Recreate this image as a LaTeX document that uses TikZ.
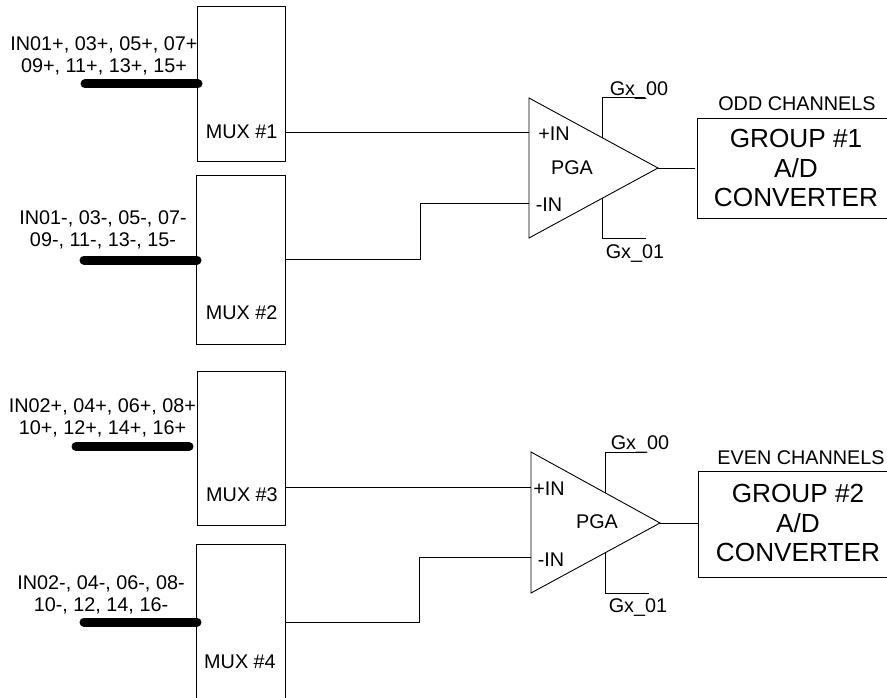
\documentclass[tikz,border=0pt]{standalone}
\usepackage{fontspec}
\setmainfont{Liberation Sans}
\tikzset{
  x=1pt,y=-1pt,
  wire/.style={draw=black,line width=0.9pt,line join=miter},
  muxbox/.style={draw=black,line width=0.9pt,inner sep=0pt,rectangle},
  adcbox/.style={draw=black,line width=0.9pt,inner sep=0pt,rectangle},
  bus/.style={draw=black,line width=9pt,line cap=round},
  lbl/.style={inner sep=0pt,font=\fontsize{19.8}{22}\selectfont,align=center},
  biglbl/.style={inner sep=0pt,font=\fontsize{26.2}{29.5}\selectfont,align=center},
}
\begin{document}
\begin{tikzpicture}
\useasboundingbox (0,0) rectangle (887,698);
\fill[white] (0,0) rectangle (887,698);
% multiplexers
\node[muxbox,minimum width=88pt,minimum height=155pt] (mux1) at (241,83.5) {};
\node[muxbox,minimum width=89pt,minimum height=169pt] (mux2) at (240.5,259.5) {};
\node[muxbox,minimum width=88pt,minimum height=154.5pt] (mux3) at (241,448.25) {};
\node[muxbox,minimum width=89pt,minimum height=170pt] (mux4) at (240.5,629) {};
\node[lbl] (m1) at (241.7,132) {MUX \#1};
\node[lbl] (m2) at (241.7,313) {MUX \#2};
\node[lbl] (m3) at (242,495) {MUX \#3};
\node[lbl] (m4) at (240,662) {MUX \#4};
% input labels
\node[lbl] (i1) at (104,55.5) {IN01+, 03+, 05+, 07+\\09+, 11+, 13+, 15+};
\node[lbl] (i2) at (103,229.5) {IN01-, 03-, 05-, 07-\\09-, 11-, 13-, 15-};
\node[lbl] (i3) at (102.5,418) {IN02+, 04+, 06+, 08+\\10+, 12+, 14+, 16+};
\node[lbl] (i4) at (101,594.5) {IN02-, 04-, 06-, 08-\\10-, 12, 14, 16-};
% buses
\coordinate (b1a) at (85,84); \coordinate (b1b) at (198,84);
\coordinate (b2a) at (84,260); \coordinate (b2b) at (197,260);
\coordinate (b3a) at (76,446.5); \coordinate (b3b) at (189,446.5);
\coordinate (b4a) at (84,622); \coordinate (b4b) at (197,622);
\draw[bus] (b1a) -- (b1b);
\draw[bus] (b2a) -- (b2b);
\draw[bus] (b3a) -- (b3b);
\draw[bus] (b4a) -- (b4b);
% PGA 1
\coordinate (t1a) at (529,98); \coordinate (t1b) at (529,238); \coordinate (t1c) at (658,168);
\draw[wire] (t1a) -- (t1c) -- (t1b) -- cycle;
\coordinate (p1) at (529,132); \coordinate (n1) at (529,203); \coordinate (j1) at (420,203);
\draw[wire] (mux1.east |- p1) -- (p1);
\draw[wire] (mux2.east |- 0,259) -- (420,259) -- (j1) -- (n1);
\node[lbl] (pi1) at (554,134) {+IN};
\node[lbl] (pg1) at (572,168) {PGA};
\node[lbl] (ni1) at (549,205) {-IN};
\coordinate (g1a) at (602,137.6); \coordinate (g1b) at (602,97); \coordinate (g1c) at (645,97);
\coordinate (g1d) at (602,198.4); \coordinate (g1e) at (602,238); \coordinate (g1f) at (646,238);
\draw[wire] (g1a) -- (g1b) -- (g1c);
\draw[wire] (g1d) -- (g1e) -- (g1f);
\node[lbl] (g100) at (639,91) {Gx\_00};
\node[lbl] (g101) at (635,254) {Gx\_01};
\node[adcbox,minimum width=195pt,minimum height=100pt] (adc1) at (794.5,168) {};
\draw[wire] (t1c) -- (695,168);
\node[lbl] (odd) at (797,104) {ODD CHANNELS};
\node[biglbl] (g1) at (796,168) {GROUP \#1\\A/D\\CONVERTER};
% PGA 2
\coordinate (t2a) at (531,452); \coordinate (t2b) at (531,593); \coordinate (t2c) at (660,523);
\draw[wire] (t2a) -- (t2c) -- (t2b) -- cycle;
\coordinate (p2) at (531,487); \coordinate (n2) at (531,557); \coordinate (j2) at (419,557);
\draw[wire] (mux3.east |- p2) -- (p2);
\draw[wire] (mux4.east |- 0,622) -- (419,622) -- (j2) -- (n2);
\node[lbl] (pi2) at (549,489) {+IN};
\node[lbl] (pg2) at (597,522) {PGA};
\node[lbl] (ni2) at (551,560) {-IN};
\coordinate (g2a) at (605,493); \coordinate (g2b) at (605,452); \coordinate (g2c) at (645,452);
\coordinate (g2d) at (605,553); \coordinate (g2e) at (605,593); \coordinate (g2f) at (649,593);
\draw[wire] (g2a) -- (g2b) -- (g2c);
\draw[wire] (g2d) -- (g2e) -- (g2f);
\node[lbl] (g200) at (640,445) {Gx\_00};
\node[lbl] (g201) at (638,608) {Gx\_01};
\node[adcbox,minimum width=194pt,minimum height=106pt] (adc2) at (795,524) {};
\draw[wire] (t2c) -- (adc2.west |- t2c);
\node[lbl] (even) at (801,458) {EVEN CHANNELS};
\node[biglbl] (g2) at (798,523) {GROUP \#2\\A/D\\CONVERTER};
\end{tikzpicture}
\end{document}
